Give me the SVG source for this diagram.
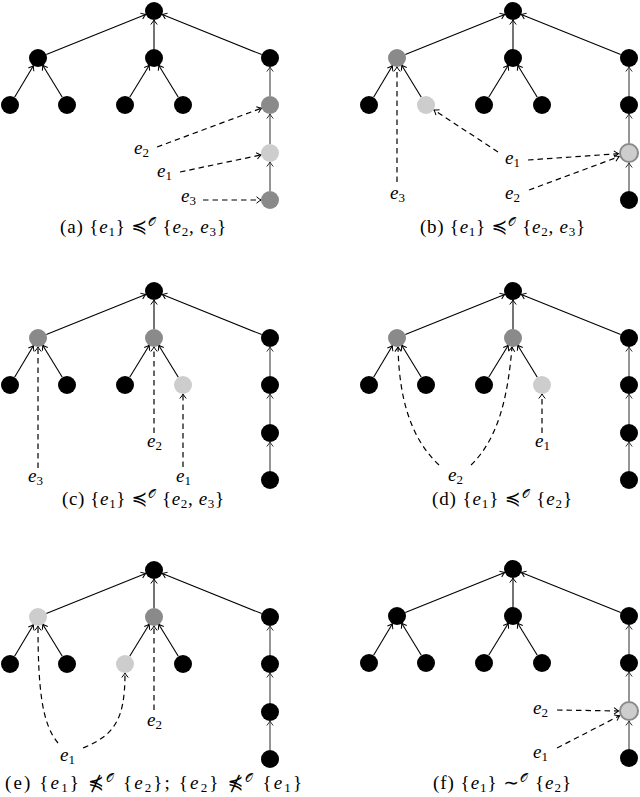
<svg xmlns="http://www.w3.org/2000/svg" width="640" height="797" viewBox="0 0 640 797">
<style>
.bk{fill:#000}
.dk{fill:#8a8a8a}
.lt{fill:#cdcdcd}
.rg{fill:#cdcdcd;stroke:#8a8a8a;stroke-width:2}
.e{fill:none;stroke:#000;stroke-width:1.1;marker-end:url(#ah)}
.g{fill:none;stroke:#8a8a8a;stroke-width:1.8;marker-end:url(#ahg)}
.d{fill:none;stroke:#000;stroke-width:1.2;stroke-dasharray:5.5 4;marker-end:url(#ah)}
.lbl{font-family:"Liberation Serif","DejaVu Serif",serif;font-size:19px;font-style:italic;fill:#000}
.sub{font-size:13px;font-style:normal}
.cap{font-family:"Liberation Serif","DejaVu Serif",serif;font-size:19px;fill:#000}
.it{font-style:italic}
.sy{font-family:"DejaVu Sans",sans-serif;font-weight:normal}
.sp{font-size:12px;font-family:"DejaVu Sans","Liberation Serif",serif}
</style>
<defs>
<marker id="ah" markerUnits="userSpaceOnUse" viewBox="0 0 10 10" markerWidth="10" markerHeight="10" refX="8.5" refY="5" orient="auto"><path d="M4,1.8 Q7,4.2 8.5,5 Q7,5.8 4,8.2" fill="none" stroke="#000" stroke-width="1"/></marker>
<marker id="ahg" markerUnits="userSpaceOnUse" viewBox="0 0 10 10" markerWidth="10" markerHeight="10" refX="8.5" refY="5" orient="auto"><path d="M4,1.8 Q7,4.2 8.5,5 Q7,5.8 4,8.2" fill="none" stroke="#333" stroke-width="1"/></marker>
</defs>

<!-- Panel (a) -->
<g id="panel-a">
<g id="a-connectors">
<path class="e" d="M46.3,54.6 L145.7,14.4"/>
<path class="e" d="M154,49 L154,20"/>
<path class="e" d="M261.7,54.6 L162.3,14.4"/>
<path class="e" d="M14.6,97.3 L33.4,65.7"/>
<path class="e" d="M62.3,97.3 L42.7,65.3"/>
<path class="e" d="M129.7,97.3 L149.3,65.3"/>
<path class="e" d="M178.3,97.3 L158.7,65.3"/>
<path class="g" d="M270,96 L270,67"/>
<path class="g" d="M270,144 L270,114"/>
<path class="g" d="M270,191 L270,162"/>
<path class="d" d="M157,147 L261.6,108.1"/>
<path class="d" d="M180,172 L261.2,154.9"/>
<path class="d" d="M203,200 L261,200"/>
</g>
<g id="a-root"><circle class="bk" cx="154" cy="11" r="9"/></g>
<g id="a-A"><circle class="bk" cx="38" cy="58" r="9"/></g>
<g id="a-B"><circle class="bk" cx="154" cy="58" r="9"/></g>
<g id="a-C"><circle class="bk" cx="270" cy="58" r="9"/></g>
<g id="a-A1"><circle class="bk" cx="10" cy="105" r="9"/></g>
<g id="a-A2"><circle class="bk" cx="67" cy="105" r="9"/></g>
<g id="a-B1"><circle class="bk" cx="125" cy="105" r="9"/></g>
<g id="a-B2"><circle class="bk" cx="183" cy="105" r="9"/></g>
<g id="a-C1"><circle class="dk" cx="270" cy="105" r="9"/></g>
<g id="a-C2"><circle class="lt" cx="270" cy="153" r="9"/></g>
<g id="a-C3"><circle class="dk" cx="270" cy="200" r="9"/></g>
<g id="a-e2"><text class="lbl" x="134" y="154">e<tspan class="sub" dy="3">2</tspan></text></g>
<g id="a-e1"><text class="lbl" x="157" y="177">e<tspan class="sub" dy="3">1</tspan></text></g>
<g id="a-e3"><text class="lbl" x="181" y="202">e<tspan class="sub" dy="3">3</tspan></text></g>
</g>

<!-- Panel (b) -->
<g id="panel-b" transform="translate(359,0)">
<g id="b-connectors">
<path class="e" d="M46.3,54.6 L145.7,14.4"/>
<path class="e" d="M154,49 L154,20"/>
<path class="e" d="M261.7,54.6 L162.3,14.4"/>
<path class="e" d="M14.6,97.3 L33.4,65.7"/>
<path class="e" d="M62.3,97.3 L42.7,65.3"/>
<path class="e" d="M129.7,97.3 L149.3,65.3"/>
<path class="e" d="M178.3,97.3 L158.7,65.3"/>
<path class="g" d="M270,96 L270,67"/>
<path class="g" d="M270,143 L270,114"/>
<path class="g" d="M270,191 L270,163"/>
<path class="d" d="M38,182 L38,67"/>
<path class="d" d="M139,152 L75,110"/>
<path class="d" d="M169,160 L259.5,153.7"/>
<path class="d" d="M170,190 L260.1,156.6"/>
</g>
<g id="b-root"><circle class="bk" cx="154" cy="11" r="9"/></g>
<g id="b-A"><circle class="dk" cx="38" cy="58" r="9"/></g>
<g id="b-B"><circle class="bk" cx="154" cy="58" r="9"/></g>
<g id="b-C"><circle class="bk" cx="270" cy="58" r="9"/></g>
<g id="b-A1"><circle class="bk" cx="10" cy="105" r="9"/></g>
<g id="b-A2"><circle class="lt" cx="67" cy="105" r="9"/></g>
<g id="b-B1"><circle class="bk" cx="125" cy="105" r="9"/></g>
<g id="b-B2"><circle class="bk" cx="183" cy="105" r="9"/></g>
<g id="b-C1"><circle class="bk" cx="270" cy="105" r="9"/></g>
<g id="b-C2"><circle class="rg" cx="270" cy="153" r="9"/></g>
<g id="b-C3"><circle class="bk" cx="270" cy="200" r="9"/></g>
<g id="b-e3"><text class="lbl" x="31" y="199">e<tspan class="sub" dy="3">3</tspan></text></g>
<g id="b-e1"><text class="lbl" x="146" y="164">e<tspan class="sub" dy="3">1</tspan></text></g>
<g id="b-e2"><text class="lbl" x="146" y="199">e<tspan class="sub" dy="3">2</tspan></text></g>
</g>

<!-- Panel (c) -->
<g id="panel-c" transform="translate(0,280)">
<g id="c-connectors">
<path class="e" d="M46.3,54.6 L145.7,14.4"/>
<path class="e" d="M154,49 L154,20"/>
<path class="e" d="M261.7,54.6 L162.3,14.4"/>
<path class="e" d="M14.6,97.3 L33.4,65.7"/>
<path class="e" d="M62.3,97.3 L42.7,65.3"/>
<path class="e" d="M129.7,97.3 L149.3,65.3"/>
<path class="e" d="M178.3,97.3 L158.7,65.3"/>
<path class="g" d="M270,96 L270,67"/>
<path class="g" d="M270,144 L270,114"/>
<path class="g" d="M270,191 L270,162"/>
<path class="d" d="M38,188 L38,67"/>
<path class="d" d="M154,153 L154,67"/>
<path class="d" d="M183,187 L183,114"/>
</g>
<g id="c-root"><circle class="bk" cx="154" cy="11" r="9"/></g>
<g id="c-A"><circle class="dk" cx="38" cy="58" r="9"/></g>
<g id="c-B"><circle class="dk" cx="154" cy="58" r="9"/></g>
<g id="c-C"><circle class="bk" cx="270" cy="58" r="9"/></g>
<g id="c-A1"><circle class="bk" cx="10" cy="105" r="9"/></g>
<g id="c-A2"><circle class="bk" cx="67" cy="105" r="9"/></g>
<g id="c-B1"><circle class="bk" cx="125" cy="105" r="9"/></g>
<g id="c-B2"><circle class="lt" cx="183" cy="105" r="9"/></g>
<g id="c-C1"><circle class="bk" cx="270" cy="105" r="9"/></g>
<g id="c-C2"><circle class="bk" cx="270" cy="153" r="9"/></g>
<g id="c-C3"><circle class="bk" cx="270" cy="200" r="9"/></g>
<g id="c-e3"><text class="lbl" x="28" y="202">e<tspan class="sub" dy="3">3</tspan></text></g>
<g id="c-e2"><text class="lbl" x="147" y="167">e<tspan class="sub" dy="3">2</tspan></text></g>
<g id="c-e1"><text class="lbl" x="176" y="202">e<tspan class="sub" dy="3">1</tspan></text></g>
</g>

<!-- Panel (d) -->
<g id="panel-d" transform="translate(359,280)">
<g id="d-connectors">
<path class="e" d="M46.3,54.6 L145.7,14.4"/>
<path class="e" d="M154,49 L154,20"/>
<path class="e" d="M261.7,54.6 L162.3,14.4"/>
<path class="e" d="M14.6,97.3 L33.4,65.7"/>
<path class="e" d="M62.3,97.3 L42.7,65.3"/>
<path class="e" d="M129.7,97.3 L149.3,65.3"/>
<path class="e" d="M178.3,97.3 L158.7,65.3"/>
<path class="g" d="M270,96 L270,67"/>
<path class="g" d="M270,144 L270,114"/>
<path class="g" d="M270,191 L270,162"/>
<path class="d" d="M80,185 C48,155 40,110 39,67"/>
<path class="d" d="M112,185 C140,158 149,115 153,67"/>
<path class="d" d="M183,153 L183,114"/>
</g>
<g id="d-root"><circle class="bk" cx="154" cy="11" r="9"/></g>
<g id="d-A"><circle class="dk" cx="38" cy="58" r="9"/></g>
<g id="d-B"><circle class="dk" cx="154" cy="58" r="9"/></g>
<g id="d-C"><circle class="bk" cx="270" cy="58" r="9"/></g>
<g id="d-A1"><circle class="bk" cx="10" cy="105" r="9"/></g>
<g id="d-A2"><circle class="bk" cx="67" cy="105" r="9"/></g>
<g id="d-B1"><circle class="bk" cx="125" cy="105" r="9"/></g>
<g id="d-B2"><circle class="lt" cx="183" cy="105" r="9"/></g>
<g id="d-C1"><circle class="bk" cx="270" cy="105" r="9"/></g>
<g id="d-C2"><circle class="bk" cx="270" cy="153" r="9"/></g>
<g id="d-C3"><circle class="bk" cx="270" cy="200" r="9"/></g>
<g id="d-e2"><text class="lbl" x="89" y="201">e<tspan class="sub" dy="3">2</tspan></text></g>
<g id="d-e1"><text class="lbl" x="176" y="167">e<tspan class="sub" dy="3">1</tspan></text></g>
</g>

<!-- Panel (e) -->
<g id="panel-e" transform="translate(0,559)">
<g id="e-connectors">
<path class="e" d="M46.3,54.6 L145.7,14.4"/>
<path class="e" d="M154,49 L154,20"/>
<path class="e" d="M261.7,54.6 L162.3,14.4"/>
<path class="e" d="M14.6,97.3 L33.4,65.7"/>
<path class="e" d="M62.3,97.3 L42.7,65.3"/>
<path class="e" d="M129.7,97.3 L149.3,65.3"/>
<path class="e" d="M178.3,97.3 L158.7,65.3"/>
<path class="g" d="M270,96 L270,67"/>
<path class="g" d="M270,144 L270,114"/>
<path class="g" d="M270,191 L270,162"/>
<path class="d" d="M58,184 C42,165 38,130 38,67"/>
<path class="d" d="M83,189 C115,176 125,160 125,114"/>
<path class="d" d="M154,151 L154,67"/>
</g>
<g id="e-root"><circle class="bk" cx="154" cy="11" r="9"/></g>
<g id="e-A"><circle class="lt" cx="38" cy="58" r="9"/></g>
<g id="e-B"><circle class="dk" cx="154" cy="58" r="9"/></g>
<g id="e-C"><circle class="bk" cx="270" cy="58" r="9"/></g>
<g id="e-A1"><circle class="bk" cx="10" cy="105" r="9"/></g>
<g id="e-A2"><circle class="bk" cx="67" cy="105" r="9"/></g>
<g id="e-B1"><circle class="lt" cx="125" cy="105" r="9"/></g>
<g id="e-B2"><circle class="bk" cx="183" cy="105" r="9"/></g>
<g id="e-C1"><circle class="bk" cx="270" cy="105" r="9"/></g>
<g id="e-C2"><circle class="bk" cx="270" cy="153" r="9"/></g>
<g id="e-C3"><circle class="bk" cx="270" cy="200" r="9"/></g>
<g id="e-e1"><text class="lbl" x="60" y="202">e<tspan class="sub" dy="3">1</tspan></text></g>
<g id="e-e2"><text class="lbl" x="147" y="167">e<tspan class="sub" dy="3">2</tspan></text></g>
</g>

<!-- Panel (f) -->
<g id="panel-f" transform="translate(359,558)">
<g id="f-connectors">
<path class="e" d="M46.3,54.6 L145.7,14.4"/>
<path class="e" d="M154,49 L154,20"/>
<path class="e" d="M261.7,54.6 L162.3,14.4"/>
<path class="e" d="M14.6,97.3 L33.4,65.7"/>
<path class="e" d="M62.3,97.3 L42.7,65.3"/>
<path class="e" d="M129.7,97.3 L149.3,65.3"/>
<path class="e" d="M178.3,97.3 L158.7,65.3"/>
<path class="g" d="M270,96 L270,67"/>
<path class="g" d="M270,143 L270,114"/>
<path class="g" d="M270,191 L270,163"/>
<path class="d" d="M198,152 L259.5,153"/>
<path class="d" d="M198,190 L260.6,157.7"/>
</g>
<g id="f-root"><circle class="bk" cx="154" cy="11" r="9"/></g>
<g id="f-A"><circle class="bk" cx="38" cy="58" r="9"/></g>
<g id="f-B"><circle class="bk" cx="154" cy="58" r="9"/></g>
<g id="f-C"><circle class="bk" cx="270" cy="58" r="9"/></g>
<g id="f-A1"><circle class="bk" cx="10" cy="105" r="9"/></g>
<g id="f-A2"><circle class="bk" cx="67" cy="105" r="9"/></g>
<g id="f-B1"><circle class="bk" cx="125" cy="105" r="9"/></g>
<g id="f-B2"><circle class="bk" cx="183" cy="105" r="9"/></g>
<g id="f-C1"><circle class="bk" cx="270" cy="105" r="9"/></g>
<g id="f-C2"><circle class="rg" cx="270" cy="153" r="9"/></g>
<g id="f-C3"><circle class="bk" cx="270" cy="200" r="9"/></g>
<g id="f-e2"><text class="lbl" x="174" y="156">e<tspan class="sub" dy="3">2</tspan></text></g>
<g id="f-e1"><text class="lbl" x="174" y="200">e<tspan class="sub" dy="3">1</tspan></text></g>
</g>

<!-- Captions -->
<g id="captions">
<text class="cap" x="60" y="233" textLength="166" lengthAdjust="spacing">(a) {<tspan class="it">e</tspan><tspan class="sub" dy="3">1</tspan><tspan dy="-3">} </tspan><tspan class="sy">≼</tspan><tspan class="sp" dy="-7">𝒪</tspan><tspan dy="7"> {</tspan><tspan class="it">e</tspan><tspan class="sub" dy="3">2</tspan><tspan dy="-3">, </tspan><tspan class="it">e</tspan><tspan class="sub" dy="3">3</tspan><tspan dy="-3">}</tspan></text>
<text class="cap" x="420" y="233" textLength="165" lengthAdjust="spacing">(b) {<tspan class="it">e</tspan><tspan class="sub" dy="3">1</tspan><tspan dy="-3">} </tspan><tspan class="sy">≼</tspan><tspan class="sp" dy="-7">𝒪</tspan><tspan dy="7"> {</tspan><tspan class="it">e</tspan><tspan class="sub" dy="3">2</tspan><tspan dy="-3">, </tspan><tspan class="it">e</tspan><tspan class="sub" dy="3">3</tspan><tspan dy="-3">}</tspan></text>
<text class="cap" x="62" y="505" textLength="162" lengthAdjust="spacing">(c) {<tspan class="it">e</tspan><tspan class="sub" dy="3">1</tspan><tspan dy="-3">} </tspan><tspan class="sy">≼</tspan><tspan class="sp" dy="-7">𝒪</tspan><tspan dy="7"> {</tspan><tspan class="it">e</tspan><tspan class="sub" dy="3">2</tspan><tspan dy="-3">, </tspan><tspan class="it">e</tspan><tspan class="sub" dy="3">3</tspan><tspan dy="-3">}</tspan></text>
<text class="cap" x="432" y="505" textLength="140" lengthAdjust="spacing">(d) {<tspan class="it">e</tspan><tspan class="sub" dy="3">1</tspan><tspan dy="-3">} </tspan><tspan class="sy">≼</tspan><tspan class="sp" dy="-7">𝒪</tspan><tspan dy="7"> {</tspan><tspan class="it">e</tspan><tspan class="sub" dy="3">2</tspan><tspan dy="-3">}</tspan></text>
<text class="cap" x="5" y="789" textLength="297" lengthAdjust="spacing">(e) {<tspan class="it">e</tspan><tspan class="sub" dy="3">1</tspan><tspan dy="-3">} </tspan><tspan class="sy">⋠</tspan><tspan class="sp" dy="-7">𝒪</tspan><tspan dy="7"> {</tspan><tspan class="it">e</tspan><tspan class="sub" dy="3">2</tspan><tspan dy="-3">};  {</tspan><tspan class="it">e</tspan><tspan class="sub" dy="3">2</tspan><tspan dy="-3">} </tspan><tspan class="sy">⋠</tspan><tspan class="sp" dy="-7">𝒪</tspan><tspan dy="7"> {</tspan><tspan class="it">e</tspan><tspan class="sub" dy="3">1</tspan><tspan dy="-3">}</tspan></text>
<text class="cap" x="433" y="789" textLength="138" lengthAdjust="spacing">(f) {<tspan class="it">e</tspan><tspan class="sub" dy="3">1</tspan><tspan dy="-3">} </tspan><tspan class="sy">∼</tspan><tspan class="sp" dy="-7">𝒪</tspan><tspan dy="7"> {</tspan><tspan class="it">e</tspan><tspan class="sub" dy="3">2</tspan><tspan dy="-3">}</tspan></text>
</g>
</svg>
